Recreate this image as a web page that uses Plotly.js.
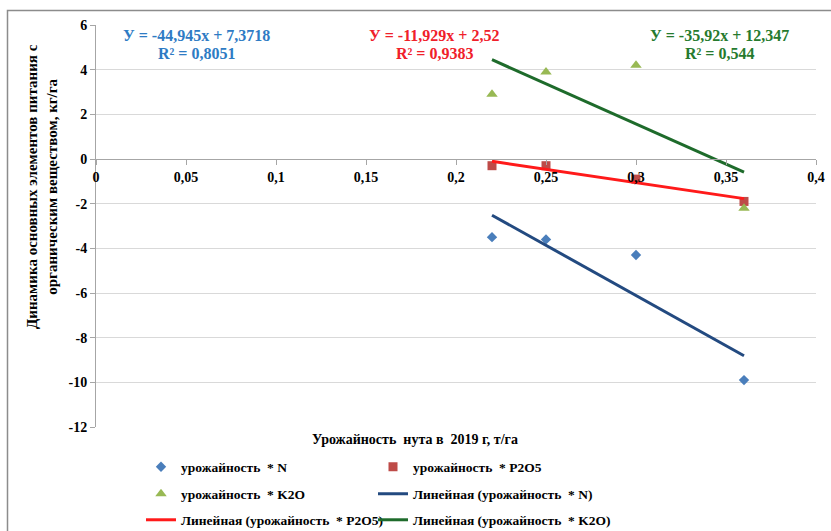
<!DOCTYPE html>
<html>
<head>
<meta charset="utf-8">
<script src="https://cdn.plot.ly/plotly-3.0.1.min.js"></script>
<style>
  html, body { margin: 0; padding: 0; background: #ffffff; }
  #chart { width: 831px; height: 531px; }
</style>
</head>
<body>
<div id="chart"></div>
<script>
// Yield of chickpea, 2019 (t/ha)
const yieldX = [0.22, 0.25, 0.30, 0.36];

// Nutrient balance with organic matter, kg/ha
const nValues = [-3.5, -3.6, -4.3, -9.9];
const p2o5Values = [-0.3, -0.3, -0.9, -1.9];
const k2oValues = [2.9, 3.9, 4.2, -2.2];

// Linear trend coefficients (slope, intercept) and R² for N, P2O5, K2O
const trendSlopes = [-44.945, -11.929, -35.92];
const trendIntercepts = [7.3718, 2.52, 12.347];
const trendR2 = [0.8051, 0.9383, 0.544];

// Legend names
const seriesNames = ['урожайность  * N', 'урожайность  * P2O5', 'урожайность  * K2O'];
const trendNames = ['Линейная (урожайность  * N)', 'Линейная (урожайность  * P2O5)', 'Линейная (урожайность  * K2O)'];

// Tick labels
const xTickVals = [0, 0.05, 0.1, 0.15, 0.2, 0.25, 0.3, 0.35, 0.4];
const xTickText = ['0', '0,05', '0,1', '0,15', '0,2', '0,25', '0,3', '0,35', '0,4'];
const yTickVals = [-12, -10, -8, -6, -4, -2, 0, 2, 4, 6];
const yTickText = ['-12', '-10', '-8', '-6', '-4', '-2', '0', '2', '4', '6'];

const serif = 'Liberation Serif, Times New Roman, serif';
const markerColors = ['#4A7EBB', '#BE4B48', '#98B954'];
const markerSymbols = ['diamond', 'square', 'triangle-up'];
const markerSizes = [8, 9, 10];
const trendColors = ['#234A80', '#FF1A1A', '#1E6B2B'];
const eqColors = ['#2E7BC4', '#F0202A', '#267A2E'];

const seriesValues = [nValues, p2o5Values, k2oValues];

const xMin = Math.min(...yieldX);
const xMax = Math.max(...yieldX);

const commaNum = v => String(v).replace('.', ',');

// Each legend entry has its own box: 3 rows x 2 columns
const markerLegend = ['legend', 'legend2', 'legend3'];
const trendLegend = ['legend4', 'legend5', 'legend6'];

const traces = [];
seriesValues.forEach((vals, i) => {
  traces.push({
    type: 'scatter',
    mode: 'markers',
    x: yieldX,
    y: vals,
    name: seriesNames[i],
    legend: markerLegend[i],
    marker: { symbol: markerSymbols[i], size: markerSizes[i], color: markerColors[i] },
    cliponaxis: false
  });
});
trendSlopes.forEach((k, i) => {
  const b = trendIntercepts[i];
  traces.push({
    type: 'scatter',
    mode: 'lines',
    x: [xMin, xMax],
    y: [k * xMin + b, k * xMax + b],
    name: trendNames[i],
    legend: trendLegend[i],
    line: { color: trendColors[i], width: 3 }
  });
});

// Plot area in pixels: x 96..816, y 25..427
const L = 96, R = 816, T = 25, B = 427;
const px = x => (x - L) / (R - L);
const py = y => (B - y) / (B - T);

// Trend equations: two lines each, above the plot
const eqX = [196, 434, 719];
const annotations = [];
trendSlopes.forEach((k, i) => {
  const font = { family: serif, size: 16, weight: 'bold', color: eqColors[i] };
  annotations.push({
    xref: 'paper', yref: 'paper', x: px(eqX[i]), y: py(35),
    xanchor: 'center', yanchor: 'middle', showarrow: false,
    text: 'У = ' + commaNum(k) + 'x + ' + commaNum(trendIntercepts[i]), font: font
  });
  annotations.push({
    xref: 'paper', yref: 'paper', x: px(eqX[i]), y: py(54),
    xanchor: 'center', yanchor: 'middle', showarrow: false,
    text: 'R² = ' + commaNum(trendR2[i]), font: font
  });
});

annotations.push({
  xref: 'paper', yref: 'paper',
  x: px(42), y: py(187),
  xanchor: 'center', yanchor: 'middle',
  showarrow: false, textangle: -90, align: 'center',
  text: 'Динамика основных элементов питания с<br>органическим веществом, кг/га',
  font: { family: serif, size: 15, weight: 'bold', color: '#000000' }
});
annotations.push({
  xref: 'paper', yref: 'paper',
  x: px(415), y: py(440),
  xanchor: 'center', yanchor: 'middle',
  showarrow: false,
  text: 'Урожайность  нута в  2019 г, т/га',
  font: { family: serif, size: 14, weight: 'bold', color: '#000000' }
});

const legendFont = { family: serif, size: 13.5, weight: 'bold', color: '#000000' };
const legendBox = (xPix, yPix) => ({
  orientation: 'h', xanchor: 'left', yanchor: 'middle',
  x: px(xPix), y: py(yPix),
  font: legendFont, bgcolor: 'rgba(0,0,0,0)', borderwidth: 0,
  itemclick: false, itemdoubleclick: false
});
const colX = [141, 373];
const rowY = [467, 494, 520];

const layout = {
  width: 831, height: 531,
  margin: { l: L, r: 831 - R, t: T, b: 531 - B, pad: 0, autoexpand: false },
  paper_bgcolor: '#ffffff',
  plot_bgcolor: '#ffffff',
  separators: ', ',
  font: { family: serif, size: 13, color: '#000000' },
  showlegend: true,
  legend: legendBox(colX[0], rowY[0]),
  legend2: legendBox(colX[1], rowY[0]),
  legend3: legendBox(colX[0], rowY[1]),
  legend4: legendBox(colX[1], rowY[1]),
  legend5: legendBox(colX[0], rowY[2]),
  legend6: legendBox(colX[1], rowY[2]),
  xaxis: {
    range: [0, 0.4],
    tickvals: xTickVals, ticktext: xTickText,
    anchor: 'free', position: 12 / 18,
    showgrid: false, zeroline: false,
    showline: true, linecolor: '#a6a6a6', linewidth: 1,
    ticks: 'outside', ticklen: 5, tickcolor: '#a6a6a6',
    tickfont: { family: serif, size: 14, weight: 'bold', color: '#000000' },
    fixedrange: true, automargin: false
  },
  yaxis: {
    range: [-12, 6],
    tickvals: yTickVals, ticktext: yTickText,
    showgrid: true, gridcolor: '#d9d9d9', gridwidth: 1,
    zeroline: false,
    showline: true, linecolor: '#a6a6a6', linewidth: 1,
    ticks: 'outside', ticklen: 5, tickcolor: '#a6a6a6',
    tickfont: { family: serif, size: 14, weight: 'bold', color: '#000000' },
    fixedrange: true, automargin: false
  },
  annotations: annotations,
  shapes: [{
    type: 'rect', xref: 'paper', yref: 'paper',
    x0: px(7.5), x1: px(900), y0: py(600), y1: py(10.5),
    line: { color: '#8c8c8c', width: 1.5 },
    fillcolor: 'rgba(0,0,0,0)', layer: 'below'
  }]
};

Plotly.newPlot('chart', traces, layout, { displayModeBar: false, staticPlot: true });
</script>
</body>
</html>
